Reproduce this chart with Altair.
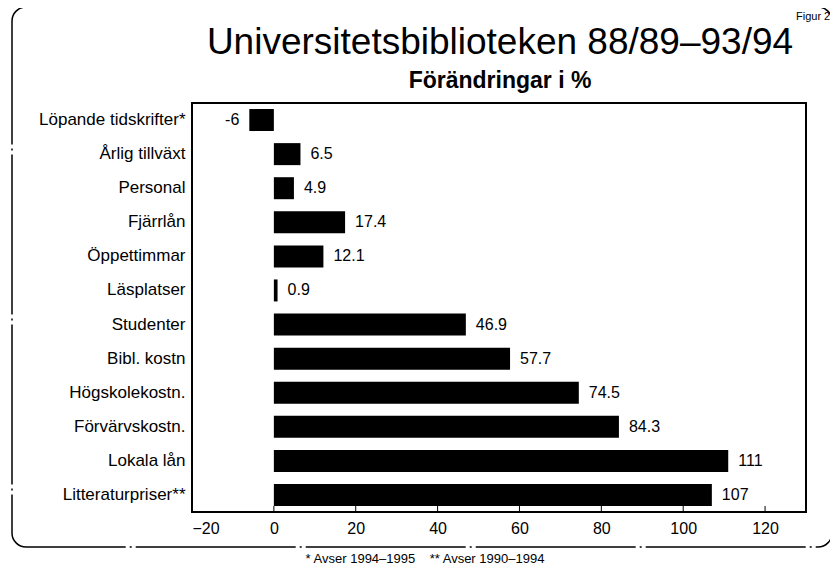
import altair as alt
import pandas as pd

categories = ["Löpande tidskrifter*", "Årlig tillväxt", "Personal", "Fjärrlån",
              "Öppettimmar", "Läsplatser", "Studenter", "Bibl. kostn",
              "Högskolekostn.", "Förvärvskostn.", "Lokala lån", "Litteraturpriser**"]
values = [-6, 6.5, 4.9, 17.4, 12.1, 0.9, 46.9, 57.7, 74.5, 84.3, 111, 107]
labels = ["-6", "6.5", "4.9", "17.4", "12.1", "0.9", "46.9", "57.7", "74.5", "84.3", "111", "107"]
x_ticks = [-20, 0, 20, 40, 60, 80, 100, 120]

title_text = "Universitetsbiblioteken 88/89–93/94"
subtitle_text = "Förändringar i %"
footnote_text = "* Avser 1994–1995\u00a0\u00a0\u00a0\u00a0** Avser 1990–1994"
figure_tag = "Figur 2"

df = pd.DataFrame({"cat": categories, "val": values, "lab": labels})
ticks_df = pd.DataFrame({"t": x_ticks})

FONT = "Liberation Sans"

x_scale = alt.Scale(domain=[-20, 130], nice=False, zero=False)
x_enc = alt.X("val:Q", scale=x_scale,
              axis=alt.Axis(values=x_ticks, title=None, grid=False, domain=False,
                            ticks=False,
                            labelFont=FONT, labelFontSize=16, labelColor="black",
                            labelPadding=8, format="d"))
y_enc = alt.Y("cat:N", sort=categories,
              axis=alt.Axis(title=None, grid=False, domain=False, ticks=False,
                            labelFont=FONT, labelFontSize=17, labelColor="black",
                            labelPadding=7, labelLimit=300))

base = alt.Chart(df)

bars = base.mark_bar(color="black", size=22).encode(x=x_enc, y=y_enc)

tick_marks = alt.Chart(ticks_df).mark_rule(color="black", strokeWidth=1).encode(
    x=alt.X("t:Q", scale=x_scale), y=alt.value(409), y2=alt.value(403))

pos_labels = base.transform_filter("datum.val >= 0").mark_text(
    align="left", baseline="middle", dx=10, font=FONT, fontSize=16, color="black"
).encode(x="val:Q", y=alt.Y("cat:N", sort=categories), text="lab:N")

neg_labels = base.transform_filter("datum.val < 0").mark_text(
    align="right", baseline="middle", dx=-10, font=FONT, fontSize=16, color="black"
).encode(x="val:Q", y=alt.Y("cat:N", sort=categories), text="lab:N")

def text_layer(txt, x, y, size, weight="normal", align="center"):
    return alt.Chart(pd.DataFrame({"t": [txt]})).mark_text(
        align=align, baseline="alphabetic", font=FONT, fontSize=size,
        fontWeight=weight, color="black"
    ).encode(x=alt.value(x), y=alt.value(y), text="t:N")

title = text_layer(title_text, 308, -49, 37)
subtitle = text_layer(subtitle_text, 308, -15, 23, weight="bold")
footnote = text_layer(footnote_text, 233, 460, 13)
tag = text_layer(figure_tag, 604, -83, 11, align="left")

border = alt.Chart(pd.DataFrame({"a": [0]})).mark_rect(
    filled=False, stroke="black", strokeWidth=1.5, cornerRadius=14,
    strokeDash=[160, 4, 2, 4]
).encode(x=alt.value(-180), x2=alt.value(640), y=alt.value(-96), y2=alt.value(444))

frame = alt.Chart(pd.DataFrame({"a": [0]})).mark_rect(
    filled=False, stroke="black", strokeWidth=2
).encode(x=alt.value(0), x2=alt.value(614), y=alt.value(0), y2=alt.value(409))

chart = alt.layer(border, frame, bars, tick_marks, pos_labels, neg_labels,
                  title, subtitle, footnote, tag).properties(
    width=614, height=409,
    padding={"left": 184, "top": 95, "right": 24, "bottom": 60},
    autosize=alt.AutoSizeParams(type="none"),
).configure_view(stroke=None).configure(background="white")

chart.save("out.html", embed_options={"renderer": "svg", "actions": False})
